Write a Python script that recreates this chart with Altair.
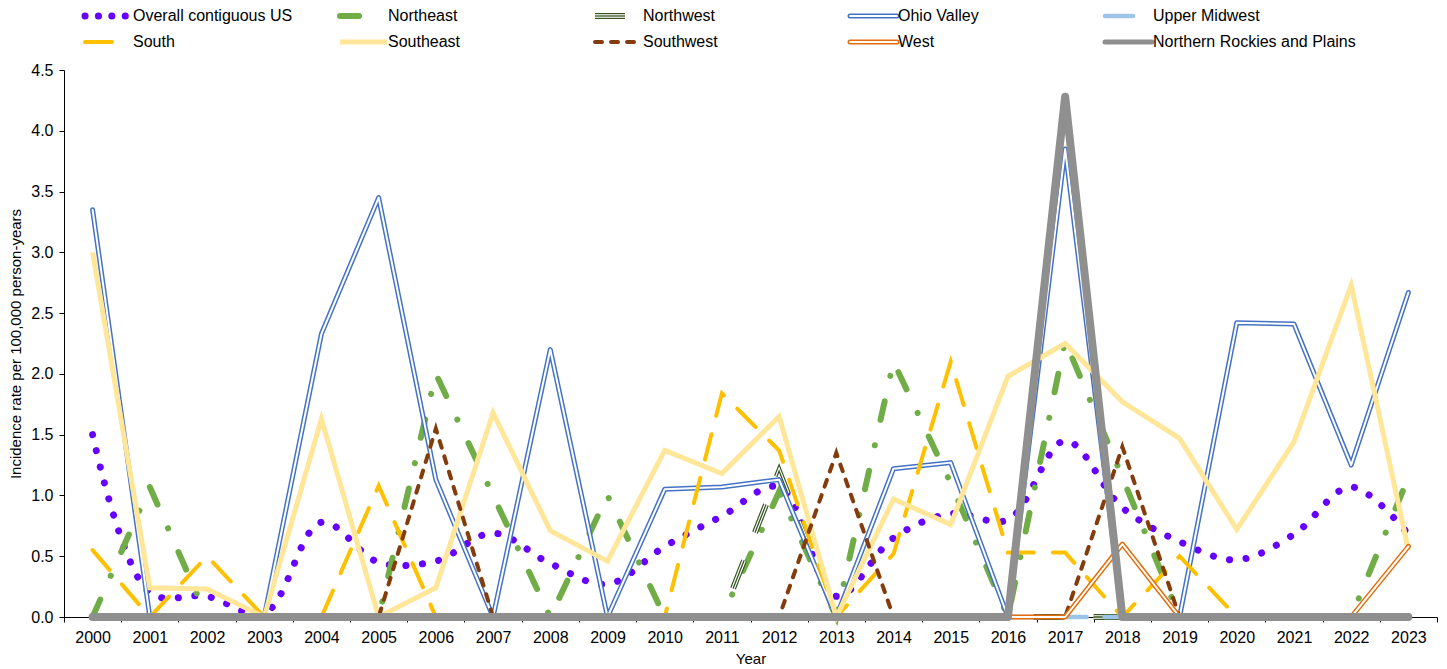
import altair as alt
import pandas as pd

# ---------------- data ----------------
years = [2000, 2001, 2002, 2003, 2004, 2005, 2006, 2007, 2008, 2009, 2010, 2011,
         2012, 2013, 2014, 2015, 2016, 2017, 2018, 2019, 2020, 2021, 2022, 2023]

series_names = ["Overall contiguous US", "Northeast", "Northwest", "Ohio Valley", "Upper Midwest",
                "South", "Southeast", "Southwest", "West", "Northern Rockies and Plains"]

overall_us = [1.50, 0.20, 0.17, 0.03, 0.78, 0.45, 0.46, 0.69, 0.44, 0.27, 0.58, 0.83,
              1.07, 0.17, 0.65, 0.85, 0.80, 1.45, 0.90, 0.62, 0.47, 0.68, 1.07, 0.68]
northeast = [0.00, 1.07, 0.00, 0.00, 0.00, 0.00, 2.00, 1.00, 0.00, 1.00, 0.00, 0.00,
             1.03, 0.00, 2.10, 1.10, 0.00, 2.27, 1.15, 0.00, 0.00, 0.00, 0.00, 1.15]
northwest = [0.00, 0.00, 0.00, 0.00, 0.00, 0.00, 0.00, 0.00, 0.00, 0.00, 0.00, 0.00,
             1.20, 0.00, 0.00, 0.00, 0.00, 0.00, 0.00, 0.00, 0.00, 0.00, 0.00, 0.00]
ohio_valley = [3.35, 0.00, 0.00, 0.00, 2.33, 3.45, 1.13, 0.00, 2.20, 0.00, 1.05, 1.07,
               1.13, 0.00, 1.22, 1.27, 0.00, 3.85, 0.00, 0.00, 2.42, 2.41, 1.25, 2.67]
upper_midwest = [0.00, 0.00, 0.00, 0.00, 0.00, 0.00, 0.00, 0.00, 0.00, 0.00, 0.00, 0.00,
                 0.00, 0.00, 0.00, 0.00, 0.00, 0.00, 0.00, 0.00, 0.00, 0.00, 0.00, 0.00]
south = [0.55, 0.00, 0.50, 0.00, 0.00, 1.08, 0.00, 0.00, 0.00, 0.00, 0.00, 1.84,
         1.37, 0.00, 0.52, 2.10, 0.53, 0.53, 0.00, 0.50, 0.00, 0.00, 0.00, 0.00]
southeast = [3.00, 0.24, 0.23, 0.00, 1.63, 0.00, 0.24, 1.68, 0.71, 0.46, 1.37, 1.18,
             1.65, 0.00, 0.97, 0.76, 1.98, 2.25, 1.77, 1.47, 0.72, 1.44, 2.73, 0.55]
southwest = [0.00, 0.00, 0.00, 0.00, 0.00, 0.00, 1.55, 0.00, 0.00, 0.00, 0.00, 0.00,
             0.00, 1.35, 0.00, 0.00, 0.00, 0.00, 1.40, 0.00, 0.00, 0.00, 0.00, 0.00]
west = [0.00, 0.00, 0.00, 0.00, 0.00, 0.00, 0.00, 0.00, 0.00, 0.00, 0.00, 0.00,
        0.00, 0.00, 0.00, 0.00, 0.00, 0.00, 0.60, 0.00, 0.00, 0.00, 0.00, 0.58]
northern_rockies = [0.00, 0.00, 0.00, 0.00, 0.00, 0.00, 0.00, 0.00, 0.00, 0.00, 0.00, 0.00,
                    0.00, 0.00, 0.00, 0.00, 0.00, 4.28, 0.00, 0.00, 0.00, 0.00, 0.00, 0.00]

y_ticks = [0.0, 0.5, 1.0, 1.5, 2.0, 2.5, 3.0, 3.5, 4.0, 4.5]

legend_col = [0, 1, 2, 3, 4, 0, 1, 2, 3, 4]
legend_row = [0, 0, 0, 0, 0, 1, 1, 1, 1, 1]

all_values = [overall_us, northeast, northwest, ohio_valley, upper_midwest,
              south, southeast, southwest, west, northern_rockies]

rows = []
for name, vals in zip(series_names, all_values):
    for yr, v in zip(years, vals):
        rows.append({"Year": str(yr), "Series": name, "Rate": v})
df = pd.DataFrame(rows)

legend_df = pd.DataFrame({"Series": series_names, "col": legend_col, "row": legend_row})

# ---------------- styles ----------------
FONT = "Liberation Sans"
styles = {
    "Overall contiguous US": [dict(color="#6600FF", strokeWidth=7, strokeDash=[0.1, 16.5],
                                   strokeCap="round", interpolate="catmull-rom")],
    "Northeast": [dict(color="#70AD47", strokeWidth=6, strokeDash=[19, 26, 0.1, 26], strokeCap="round")],
    "Northwest": [dict(color="#375623", strokeWidth=6, strokeDash=[30, 30]),
                  dict(color="#FFFFFF", strokeWidth=3.6, strokeDash=[30, 30]),
                  dict(color="#375623", strokeWidth=1.3, strokeDash=[30, 30])],
    "Ohio Valley": [dict(color="#4472C4", strokeWidth=5, strokeCap="round", strokeJoin="round"),
                    dict(color="#FFFFFF", strokeWidth=2, strokeCap="round", strokeJoin="round")],
    "Upper Midwest": [dict(color="#9DC3E6", strokeWidth=4.5, strokeDash=[28, 18], strokeCap="round")],
    "South": [dict(color="#FFC000", strokeWidth=4, strokeDash=[26, 19], strokeCap="round")],
    "Southeast": [dict(color="#FFE699", strokeWidth=5)],
    "Southwest": [dict(color="#843C0C", strokeWidth=4, strokeDash=[7, 9], strokeCap="round")],
    "West": [dict(color="#E46C0A", strokeWidth=5, strokeCap="round", strokeJoin="round"),
             dict(color="#FFFFFF", strokeWidth=2, strokeCap="round", strokeJoin="round")],
    "Northern Rockies and Plains": [dict(color="#8F8F8F", strokeWidth=8, strokeCap="round",
                                         strokeJoin="round")],
}
# legend-only adjustments (dash / width of the short legend samples)
legend_dash_override = {"Overall contiguous US": [0.1, 13.3], "Northeast": [19, 40],
                        "South": [27, 40], "Upper Midwest": [28, 40]}
legend_width_override = {"Northern Rockies and Plains": [5]}

PLOT_W = 1373
PLOT_H = 547

x_enc = alt.X("Year:O",
              scale=alt.Scale(type="band", paddingInner=0, paddingOuter=0),
              axis=alt.Axis(title="Year", labelAngle=0, tickBand="extent", tickSize=5,
                            labelPadding=7, titlePadding=6, grid=False))
y_enc = alt.Y("Rate:Q",
              scale=alt.Scale(domain=[0, 4.5], nice=False, zero=True),
              axis=alt.Axis(title="Incidence rate per 100,000 person-years", values=y_ticks,
                            format=".1f", grid=False, tickSize=5, labelPadding=6,
                            titlePadding=7))

base = alt.Chart(df)
layers = []
for name in series_names:
    for st in styles[name]:
        props = dict(st)
        layers.append(
            base.transform_filter(alt.datum.Series == name)
            .mark_line(**props)
            .encode(x=x_enc, y=y_enc)
        )
main = alt.layer(*layers).properties(width=PLOT_W, height=PLOT_H)

# ---------------- legend panel ----------------
LEG_W = 1275
sym_len = 47
lx = alt.X("col:Q", scale=alt.Scale(domain=[0, 5], nice=False, zero=False), axis=None)
ly = alt.Y("row:O", scale=alt.Scale(type="point", padding=0), axis=None)
lbase = alt.Chart(legend_df)
leg_layers = []
for name in series_names:
    for i, st in enumerate(styles[name]):
        props = dict(st)
        props.pop("interpolate", None)
        props.pop("strokeJoin", None)
        col = props.pop("color")
        if name in legend_dash_override:
            props["strokeDash"] = legend_dash_override[name]
        if name in legend_width_override:
            props["strokeWidth"] = legend_width_override[name][i]
        leg_layers.append(
            lbase.transform_filter(alt.datum.Series == name)
            .mark_point(shape="M0,0L2,0", size=sym_len * sym_len, filled=False, opacity=1,
                        stroke=col, xOffset=21, **props)
            .encode(x=lx, y=ly)
        )
leg_layers.append(
    lbase.mark_text(align="left", baseline="middle", dx=sym_len + 1, xOffset=21, font=FONT,
                    fontSize=16, color="#000000")
    .encode(x=lx, y=ly, text="Series:N")
)
legend = alt.layer(*leg_layers).properties(width=LEG_W, height=26)

chart = (
    alt.vconcat(legend, main, spacing=10)
    .properties(padding={"left": 0, "top": -6, "right": 0, "bottom": 0}, background="#FFFFFF")
    .configure_view(stroke=None)
    .configure_axis(labelFont=FONT, titleFont=FONT, labelFontSize=16, titleFontSize=15,
                    titleFontWeight="normal", labelColor="#000000", titleColor="#000000",
                    domainColor="#000000", tickColor="#000000", domainWidth=1, tickWidth=1)
)

chart.save("out.html", embed_options={"renderer": "svg", "actions": False})
